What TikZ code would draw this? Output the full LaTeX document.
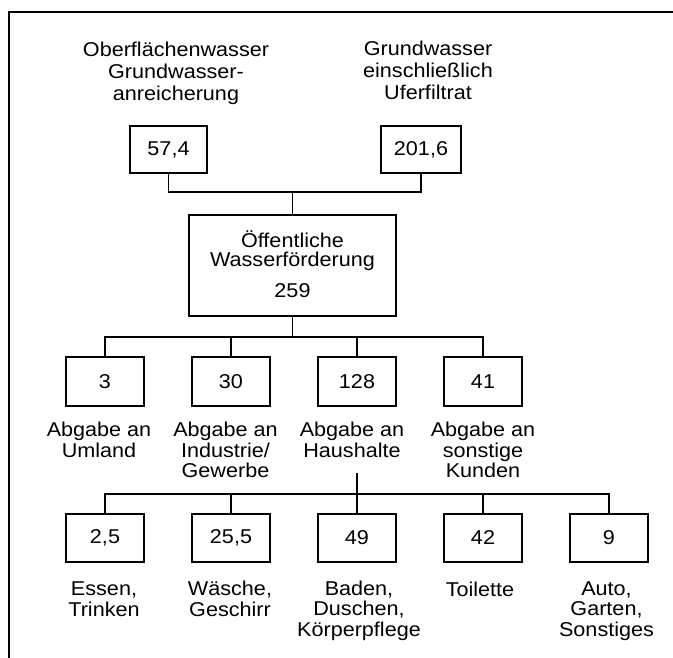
\documentclass[tikz,border=0pt]{standalone}
\usepackage{fontspec}
\setmainfont[FakeStretch=1.08]{Liberation Sans}
\begin{document}
\begin{tikzpicture}[x=1pt,y=-1pt,
  box/.style={draw=black, line width=1.5pt, inner sep=0pt, font=\fontsize{20}{21}\selectfont},
  lbl/.style={inner sep=0pt, align=center, anchor=base, font=\fontsize{20}{20.5}\selectfont},
  conn/.style={draw=black, line width=1.5pt}]
\useasboundingbox (0,0) rectangle (673,658);
\fill[white] (0,0) rectangle (673,658);
\draw[line width=2pt] (673,12) -- (9,12) -- (9,658);

% top sources
\node[lbl, font=\fontsize{20}{22}\selectfont] (tl) at (176,101) {Oberflächenwasser\\Grundwasser-\\anreicherung};
\node[lbl, font=\fontsize{20}{22}\selectfont] (tr) at (428,100) {Grundwasser\\einschließlich\\Uferfiltrat};
\node[box, minimum width=77, minimum height=47] (b1) at (168.5,149.5) {57,4};
\node[box, minimum width=80, minimum height=47] (b2) at (421,149.5) {201,6};

% central box
\node[box, minimum width=207, minimum height=101] (foe) at (292.5,265.5) {};
\node[lbl, font=\fontsize{20}{19.5}\selectfont] (foet) at (292.5,298) {Öffentliche\\Wasserförderung\\[12pt]259};

% row 2
\foreach \n/\x/\v in {r2a/105/3, r2b/231/30, r2c/357/128, r2d/483/41}
  \node[box, minimum width=78, minimum height=49] (\n) at (\x,381.5) {\v};
\node[lbl] (l2a) at (99,457.3) {Abgabe an\\Umland};
\node[lbl] (l2b) at (225.5,477.5) {Abgabe an\\Industrie/\\Gewerbe};
\node[lbl] (l2c) at (352,457.3) {Abgabe an\\Haushalte};
\node[lbl] (l2d) at (483,477.5) {Abgabe an\\sonstige\\Kunden};

% row 3
\foreach \n/\x/\v in {r3a/105/{2,5}, r3b/231/{25,5}, r3c/357/49, r3d/483/42, r3e/609/9}
  \node[box, minimum width=78, minimum height=48] (\n) at (\x,538) {\v};
\node[lbl] (l3a) at (104,616) {Essen,\\Trinken};
\node[lbl] (l3b) at (230,616) {Wäsche,\\Geschirr};
\node[lbl] (l3c) at (359,636) {Baden,\\Duschen,\\Körperpflege};
\node[lbl] (l3d) at (480,596) {Toilette};
\node[lbl] (l3e) at (606.5,636) {Auto,\\Garten,\\Sonstiges};

% junctions
\coordinate (j1) at (292.5,192);
\coordinate (j2) at (292.5,337);
\coordinate (h) at (357,473);
\coordinate (j3) at (357,494);

% connectors
\draw[conn] (b1.south) |- (j1) -| (b2.south);
\draw[conn] (j1) -- (foe.north);
\draw[conn] (foe.south) -- (j2);
\draw[conn] (r2a.north) |- (j2) -| (r2d.north);
\draw[conn] (r2b.north) -- (r2b.north |- j2);
\draw[conn] (r2c.north) -- (r2c.north |- j2);
\draw[conn] (h) -- (r3c.north);
\draw[conn] (r3a.north) |- (j3) -| (r3e.north);
\draw[conn] (r3b.north) -- (r3b.north |- j3);
\draw[conn] (r3d.north) -- (r3d.north |- j3);
\end{tikzpicture}
\end{document}
